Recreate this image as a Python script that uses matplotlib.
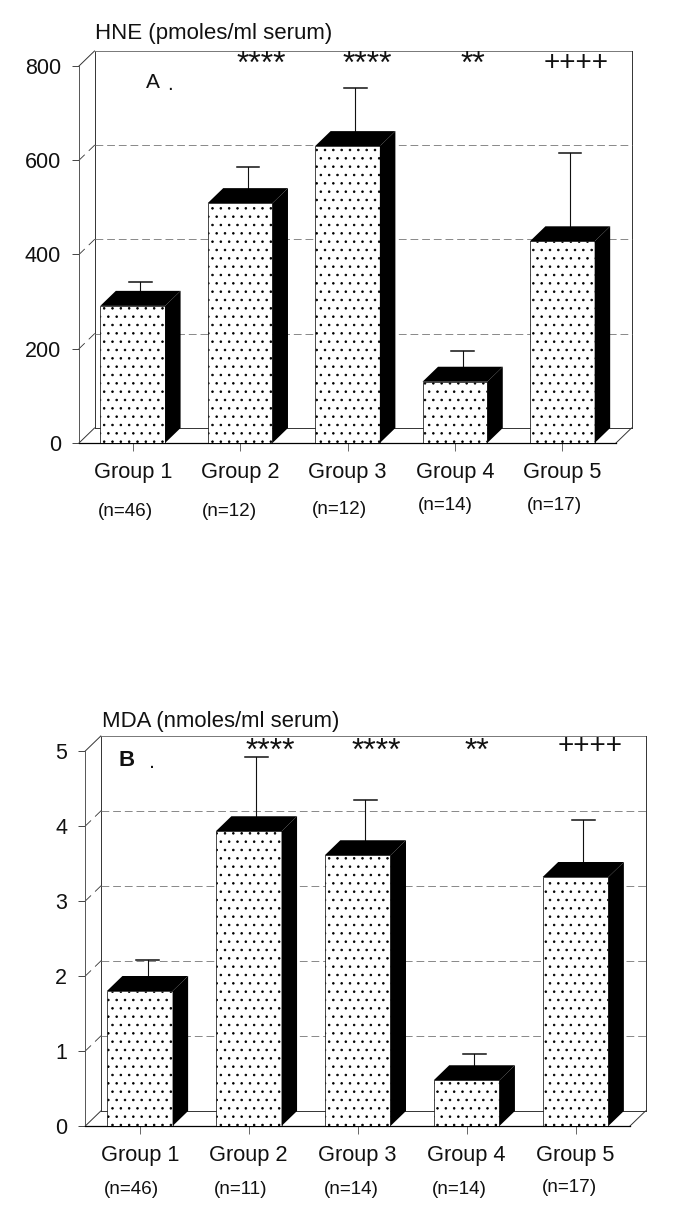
import matplotlib
matplotlib.use('Agg')
from matplotlib import pyplot as plt

plt.rcParams['font.family'] = ['Liberation Sans', 'DejaVu Sans']
plt.rcParams['hatch.linewidth'] = 0.6

W, H = 684, 1227

groups = ['Group 1', 'Group 2', 'Group 3', 'Group 4', 'Group 5']

# panel A
hne_values = [291, 509, 630, 130, 428]
hne_err_top = [326, 570, 737, 180, 599]
hne_ticks = [0, 200, 400, 600, 800]
hne_n = ['(n=46)', '(n=12)', '(n=12)', '(n=14)', '(n=17)']
hne_marks = ['****', '****', '**', '++++']

# panel B
mda_values = [1.80, 3.93, 3.61, 0.61, 3.32]
mda_err_top = [2.11, 4.82, 4.25, 0.86, 3.98]
mda_ticks = [0, 1, 2, 3, 4, 5]
mda_n = ['(n=46)', '(n=11)', '(n=14)', '(n=14)', '(n=17)']
mda_marks = ['****', '****', '**', '++++']

fig = plt.figure(figsize=(W / 100, H / 100), dpi=100, facecolor='white')


# text placed by pixel position on the page
def page_text(x, y, s, size, ha='center', **kw):
    fig.text(x / W, 1 - y / H, s, fontsize=size, ha=ha, va='center', color='#111111', **kw)


def draw_panel(box, values, err_top, ticks, depth_px=(15.5, 15)):
    left, right, bottom, top = box
    ax = fig.add_axes([left / W, 1 - bottom / H, (right - left) / W, (bottom - top) / H])
    ymax = ticks[-1]
    dx = depth_px[0] / (right - left) * 5
    dy = depth_px[1] / (bottom - top) * ymax
    ax.set_xlim(0, 5)
    ax.set_ylim(0, ymax)
    ax.patch.set_visible(False)

    for side in ['top', 'right']:
        ax.spines[side].set_visible(False)
    ax.spines['left'].set_linewidth(0.7)
    ax.spines['left'].set_color('#555555')
    ax.spines['bottom'].set_linewidth(0.9)

    # walls and floor
    wall = dict(color='#333333', lw=0.7, clip_on=False, zorder=1)
    ax.plot([dx, dx], [dy, ymax + dy], **wall)
    ax.plot([dx, 5 + dx], [ymax + dy, ymax + dy], color='#777777', lw=0.7, clip_on=False, zorder=1)
    ax.plot([5 + dx, 5 + dx], [dy, ymax + dy], **wall)
    ax.plot([dx, 5 + dx], [dy, dy], **wall)
    ax.plot([5, 5 + dx], [0, dy], **wall)
    ax.plot([0, dx], [0, dy], **wall)
    ax.plot([0, dx], [ymax, ymax + dy], **wall)

    # dashed gridlines on the back wall
    for t in ticks[1:-1]:
        ax.plot([dx, 5 + dx], [t + dy, t + dy], color='#888888', lw=0.7,
                dashes=(8, 4), clip_on=False, zorder=1)
        ax.plot([0, dx * 0.35], [t, t + dy * 0.35], color='#333333', lw=0.6, zorder=1, clip_on=False)
        ax.plot([dx * 0.65, dx], [t + dy * 0.65, t + dy], color='#333333', lw=0.6, zorder=1, clip_on=False)

    centers = [i + 0.5 for i in range(5)]
    width = 0.603
    ax.bar(centers, values, width=width, facecolor='white', edgecolor='black',
           hatch='..', linewidth=0.5, zorder=3)

    for c, v, e in zip(centers, values, err_top):
        x0, x1 = c - width / 2, c + width / 2
        # top and side faces
        ax.fill([x0, x1, x1 + dx, x0 + dx], [v, v, v + dy, v + dy], color='black', lw=0, zorder=3, clip_on=False)
        ax.fill([x1, x1 + dx, x1 + dx, x1], [0, dy, v + dy, v], color='black', lw=0, zorder=3, clip_on=False)
        # error bar, sitting mid depth
        xe = c + dx / 2
        ye = e + dy / 2
        cap = 0.105
        ax.plot([xe, xe], [v + dy, ye], color='#111111', lw=0.8, zorder=2, clip_on=False)
        ax.plot([xe - cap, xe + cap], [ye, ye], color='#111111', lw=1.1, zorder=2, clip_on=False)

    ax.set_yticks(ticks)
    ax.set_xticks(centers)
    ax.set_xticklabels(groups)
    ax.tick_params(axis='y', length=5, width=0.7, color='#444444', labelsize=15.5, pad=8, labelcolor='#111111')
    ax.tick_params(axis='x', length=6, width=0.7, color='#666666', labelsize=15.7, pad=8, labelcolor='#111111')
    return ax


draw_panel((79, 616, 443, 66), hne_values, hne_err_top, hne_ticks)
draw_panel((85.3, 630, 1126, 751), mda_values, mda_err_top, mda_ticks)

# panel A texts
page_text(95, 34, 'HNE (pmoles/ml serum)', 16, ha='left')
page_text(146, 82, 'A', 15, ha='left')
page_text(167, 85, '.', 15, ha='left')
for x, y, s in zip([125, 229, 339, 445, 554], [511, 512, 509, 506, 505], hne_n):
    page_text(x, y, s, 13.6)
for x, s in zip([261, 367, 473, 576], hne_marks):
    page_text(x, 65 if s[0] == '*' else 63, s, 23 if s[0] == '*' else 20)

# panel B texts
page_text(102, 722, 'MDA (nmoles/ml serum)', 15.9, ha='left')
page_text(119, 760, 'B', 16, ha='left', fontweight='bold')
page_text(149, 762, '.', 15.5, ha='left')
for x, y, s in zip([131, 241, 351, 459, 569], [1190, 1190, 1190, 1189, 1188], mda_n):
    page_text(x, y, s, 13.6)
for x, s in zip([270, 376, 477, 590], mda_marks):
    page_text(x, 752 if s[0] == '*' else 746, s, 23 if s[0] == '*' else 20)

fig.savefig('out.png', dpi=100, facecolor='white')
